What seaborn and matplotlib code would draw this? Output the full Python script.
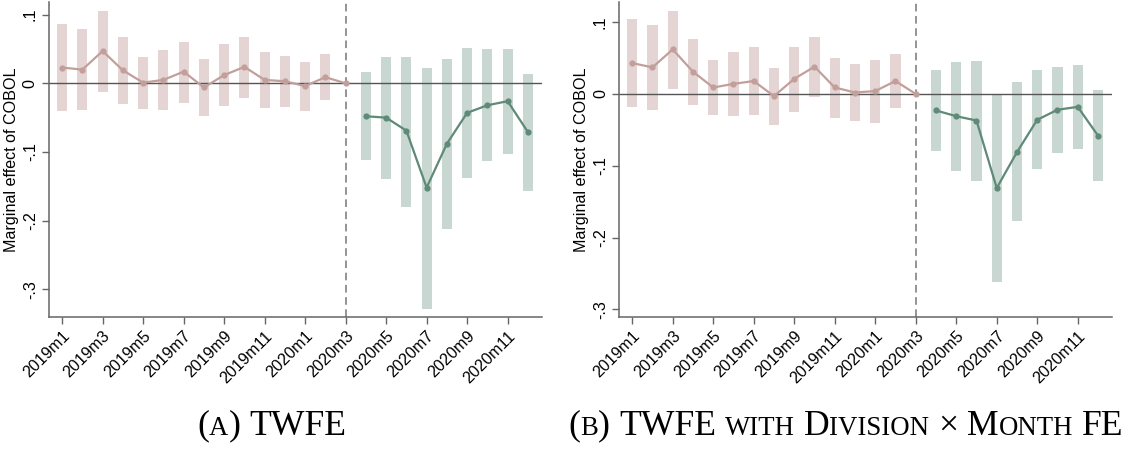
import matplotlib
matplotlib.use("Agg")
import matplotlib.pyplot as plt
import numpy as np
import pandas as pd
import seaborn as sns

# months 2019m1 .. 2020m12
months = [f"2019m{i}" for i in range(1, 13)] + [f"2020m{i}" for i in range(1, 13)]

# --- panel A: TWFE ---
pre_coef_a = [0.023, 0.020, 0.047, 0.019, 0.001, 0.005, 0.017, -0.006, 0.012, 0.024, 0.005, 0.003, -0.004, 0.009, 0.0]
pre_hi_a = [0.087, 0.079, 0.106, 0.067, 0.039, 0.049, 0.060, 0.035, 0.057, 0.068, 0.046, 0.040, 0.031, 0.043, np.nan]
pre_lo_a = [-0.040, -0.039, -0.013, -0.030, -0.037, -0.039, -0.028, -0.047, -0.033, -0.022, -0.036, -0.034, -0.041, -0.024, np.nan]
post_coef_a = [-0.048, -0.050, -0.069, -0.152, -0.088, -0.043, -0.032, -0.026, -0.071]
post_hi_a = [0.016, 0.038, 0.039, 0.023, 0.035, 0.051, 0.050, 0.050, 0.014]
post_lo_a = [-0.112, -0.139, -0.180, -0.329, -0.212, -0.138, -0.113, -0.103, -0.157]

# --- panel B: TWFE with Division x Month FE ---
pre_coef_b = [0.043, 0.037, 0.062, 0.031, 0.009, 0.014, 0.018, -0.003, 0.021, 0.038, 0.009, 0.002, 0.004, 0.018, 0.0]
pre_hi_b = [0.104, 0.096, 0.116, 0.076, 0.047, 0.059, 0.066, 0.036, 0.066, 0.079, 0.050, 0.042, 0.047, 0.055, np.nan]
pre_lo_b = [-0.018, -0.022, 0.007, -0.016, -0.029, -0.031, -0.030, -0.043, -0.025, -0.004, -0.033, -0.038, -0.040, -0.019, np.nan]
post_coef_b = [-0.023, -0.031, -0.037, -0.131, -0.081, -0.036, -0.022, -0.018, -0.058]
post_hi_b = [0.033, 0.045, 0.046, 0.000, 0.016, 0.033, 0.038, 0.040, 0.005]
post_lo_b = [-0.080, -0.107, -0.121, -0.262, -0.177, -0.105, -0.082, -0.077, -0.121]

yticks = [0.1, 0.0, -0.1, -0.2, -0.3]
ytick_labels = [".1", "0", "-.1", "-.2", "-.3"]

PINK_BAR = "#e4d4d3"
PINK_LINE = "#c29f9b"
GREEN_BAR = "#c8d7d1"
GREEN_LINE = "#5f8a77"
AXIS_COL = "#666666"

sns.set_style("white")
plt.rcParams["font.family"] = ["Liberation Sans", "DejaVu Sans"]
plt.rcParams["text.color"] = "black"
plt.rcParams["axes.labelcolor"] = "black"
plt.rcParams["xtick.labelcolor"] = "black"
plt.rcParams["ytick.labelcolor"] = "black"

fig = plt.figure(figsize=(11.28, 4.51), dpi=100)

FS = 11.6


def draw_panel(ax, pre_coef, pre_lo, pre_hi, post_coef, post_lo, post_hi, ylim):
    n_pre = len(pre_coef)
    x_pre = np.arange(n_pre)
    x_post = np.arange(n_pre, n_pre + len(post_coef))
    pre_lo = np.array(pre_lo)
    pre_hi = np.array(pre_hi)
    post_lo = np.array(post_lo)
    post_hi = np.array(post_hi)

    # confidence intervals as floating bars
    ax.bar(x_pre, pre_hi - pre_lo, bottom=pre_lo, width=0.5, color=PINK_BAR, linewidth=0, zorder=1)
    ax.bar(x_post, post_hi - post_lo, bottom=post_lo, width=0.5, color=GREEN_BAR, linewidth=0, zorder=1)

    ax.axhline(0, color="#555555", lw=1.0, zorder=2)
    ax.axvline(n_pre - 1, color="#777777", lw=1.1, ls=(0, (5, 3)), zorder=2)

    df_pre = pd.DataFrame({"x": x_pre, "y": pre_coef})
    df_post = pd.DataFrame({"x": x_post, "y": post_coef})
    sns.lineplot(data=df_pre, x="x", y="y", ax=ax, color=PINK_LINE, lw=1.6,
                 marker="o", markersize=4.5, markeredgewidth=0, zorder=3)
    sns.lineplot(data=df_post, x="x", y="y", ax=ax, color=GREEN_LINE, lw=1.6,
                 marker="o", markersize=4.5, markeredgewidth=0, zorder=3)

    ax.set_xlim(-0.65, 23.68)
    ax.set_ylim(*ylim)
    ax.set_xticks(range(0, len(months), 2))
    ax.set_xticklabels(months[::2], rotation=45, ha="right", rotation_mode="anchor", fontsize=FS)
    ax.set_yticks(yticks)
    ax.set_yticklabels(ytick_labels, rotation=90, va="center", fontsize=FS)
    ax.set_xlabel("")
    ax.set_ylabel("Marginal effect of COBOL", fontsize=FS, labelpad=3)
    for s in ["top", "right"]:
        ax.spines[s].set_visible(False)
    for s in ["left", "bottom"]:
        ax.spines[s].set_color(AXIS_COL)
        ax.spines[s].set_linewidth(1.1)
    ax.tick_params(axis="both", direction="out", length=5, width=1, color=AXIS_COL, pad=3, left=True, bottom=True)


ax_a = fig.add_axes([0.0434, 0.2965, 0.4368, 0.699])
draw_panel(ax_a, pre_coef_a, pre_lo_a, pre_hi_a, post_coef_a, post_lo_a, post_hi_a, (-0.341, 0.1185))

ax_b = fig.add_axes([0.5488, 0.2965, 0.4368, 0.699])
draw_panel(ax_b, pre_coef_b, pre_lo_b, pre_hi_b, post_coef_b, post_lo_b, post_hi_b, (-0.311, 0.128))


# captions in small caps, built from pieces of two sizes
def small_caps_caption(x_center, y, segments, big=25.7, small=19.3):
    renderer = fig.canvas.get_renderer()
    items = []
    total = 0.0
    for seg in segments:
        if seg == " ":
            w = big * 0.25 * fig.dpi / 72.0
            items.append((None, w))
            total += w
            continue
        txt, is_big = seg
        t = fig.text(0, y, txt, fontsize=big if is_big else small, color="black",
                     family=["Liberation Serif", "DejaVu Serif"], ha="left", va="baseline",
                     transform=None)
        w = t.get_window_extent(renderer).width
        items.append((t, w))
        total += w
    xpix = x_center * fig.bbox.width - total / 2
    ypix = y * fig.bbox.height
    for t, w in items:
        if t is not None:
            t.set_position((xpix, ypix))
        xpix += w


small_caps_caption(0.241, 0.036, [("(", True), ("A", False), (")", True), " ", ("TWFE", True)])
small_caps_caption(0.75, 0.036, [("(", True), ("B", False), (")", True), " ", ("TWFE", True), " ",
                                 ("WITH", False), " ", ("D", True), ("IVISION", False), " ",
                                 ("×", True), " ", ("M", True), ("ONTH", False), " ", ("FE", True)])

fig.savefig("out.png", dpi=100)
